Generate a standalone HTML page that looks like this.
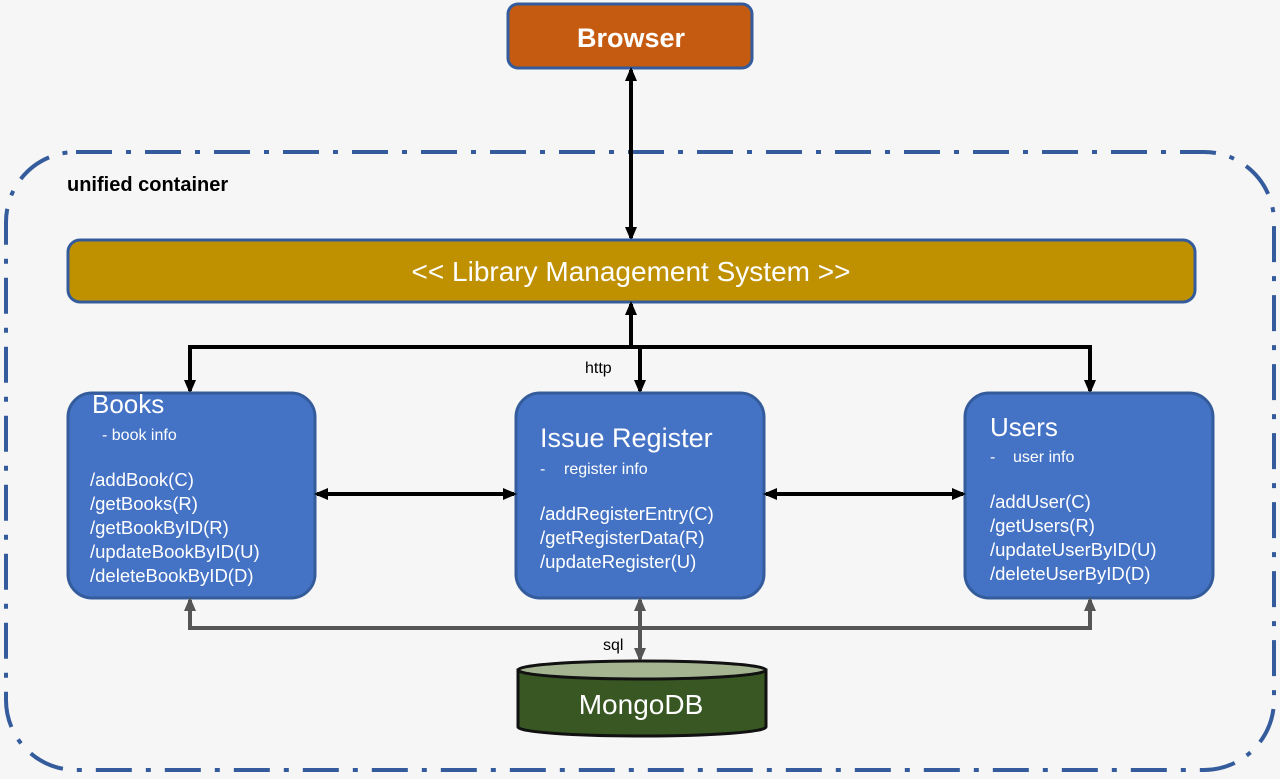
<!DOCTYPE html>
<html><head><meta charset="utf-8"><style>
html,body{margin:0;padding:0;background:#f6f6f6;}
svg{display:block;font-family:"Liberation Sans",sans-serif;}
</style></head><body>
<svg width="1280" height="779" viewBox="0 0 1280 779" xmlns="http://www.w3.org/2000/svg">
<defs>
<marker id="ab" markerWidth="14" markerHeight="14" refX="11" refY="7" orient="auto-start-reverse" markerUnits="userSpaceOnUse" viewBox="0 0 14 14"><path d="M0,1 L14,7 L0,13 z" fill="#000"/></marker>
<marker id="ag" markerWidth="14" markerHeight="14" refX="11" refY="7" orient="auto-start-reverse" markerUnits="userSpaceOnUse" viewBox="0 0 14 14"><path d="M0,1 L14,7 L0,13 z" fill="#555"/></marker>
</defs>
<rect width="1280" height="779" fill="#f6f6f6"/>
<rect x="6" y="152" width="1268" height="618" rx="70" fill="none" stroke="#345c9c" stroke-width="4" stroke-dasharray="36 14 5 14"/>
<text x="67" y="191" font-size="20" font-weight="bold" fill="#000">unified container</text>

<rect x="508" y="4" width="244" height="64" rx="10" fill="#c55a11" stroke="#345c9c" stroke-width="3"/>
<text x="631" y="47" font-size="27" font-weight="bold" fill="#fff" text-anchor="middle">Browser</text>

<line x1="631" y1="70" x2="631" y2="238" stroke="#000" stroke-width="4" marker-start="url(#ab)" marker-end="url(#ab)"/>

<rect x="68" y="240" width="1127" height="62" rx="12" fill="#bf9000" stroke="#345c9c" stroke-width="3"/>
<text x="631" y="281" font-size="28" fill="#fff" text-anchor="middle">&lt;&lt; Library Management System &gt;&gt;</text>

<polyline points="190,391 190,347 1090,347 1090,391" fill="none" stroke="#000" stroke-width="4" marker-start="url(#ab)" marker-end="url(#ab)"/>
<line x1="631" y1="347" x2="631" y2="304" stroke="#000" stroke-width="4" marker-end="url(#ab)"/>
<line x1="640" y1="347" x2="640" y2="391" stroke="#000" stroke-width="4" marker-end="url(#ab)"/>
<text x="585" y="373" font-size="16" fill="#000">http</text>

<g fill="#4472c4" stroke="#345c9c" stroke-width="3">
<rect x="68" y="393" width="247" height="205" rx="24"/>
<rect x="516" y="393" width="248" height="205" rx="24"/>
<rect x="965" y="393" width="248" height="205" rx="24"/>
</g>
<g fill="#fff" font-size="18.5">
<text x="92" y="413" font-size="26">Books</text>
<text x="102" y="440" font-size="16">- book info</text>
<text x="90" y="486">/addBook(C)</text>
<text x="90" y="510">/getBooks(R)</text>
<text x="90" y="534">/getBookByID(R)</text>
<text x="90" y="558">/updateBookByID(U)</text>
<text x="90" y="582">/deleteBookByID(D)</text>

<text x="540" y="447" font-size="27">Issue Register</text>
<text x="540" y="474" font-size="16">-</text>
<text x="564" y="474" font-size="16">register info</text>
<text x="540" y="520">/addRegisterEntry(C)</text>
<text x="540" y="544">/getRegisterData(R)</text>
<text x="540" y="568">/updateRegister(U)</text>

<text x="990" y="436" font-size="26">Users</text>
<text x="990" y="462" font-size="16">-</text>
<text x="1013" y="462" font-size="16">user info</text>
<text x="990" y="508">/addUser(C)</text>
<text x="990" y="532">/getUsers(R)</text>
<text x="990" y="556">/updateUserByID(U)</text>
<text x="990" y="580">/deleteUserByID(D)</text>
</g>

<line x1="317" y1="494" x2="514" y2="494" stroke="#000" stroke-width="4" marker-start="url(#ab)" marker-end="url(#ab)"/>
<line x1="766" y1="494" x2="963" y2="494" stroke="#000" stroke-width="4" marker-start="url(#ab)" marker-end="url(#ab)"/>

<polyline points="190,600 190,628 1090,628 1090,600" fill="none" stroke="#555" stroke-width="4" marker-start="url(#ag)" marker-end="url(#ag)"/>
<line x1="640" y1="600" x2="640" y2="659" stroke="#555" stroke-width="4" marker-start="url(#ag)" marker-end="url(#ag)"/>
<text x="603" y="650" font-size="16" fill="#000">sql</text>

<path d="M518,670 L518,727 A124,9 0 0 0 766,727 L766,670 Z" fill="#385723" stroke="#111" stroke-width="3"/>
<ellipse cx="642" cy="670" rx="124" ry="9" fill="#a5b592" stroke="#111" stroke-width="3"/>
<text x="641" y="714" font-size="28" fill="#fff" text-anchor="middle">MongoDB</text>
</svg>
</body></html>
